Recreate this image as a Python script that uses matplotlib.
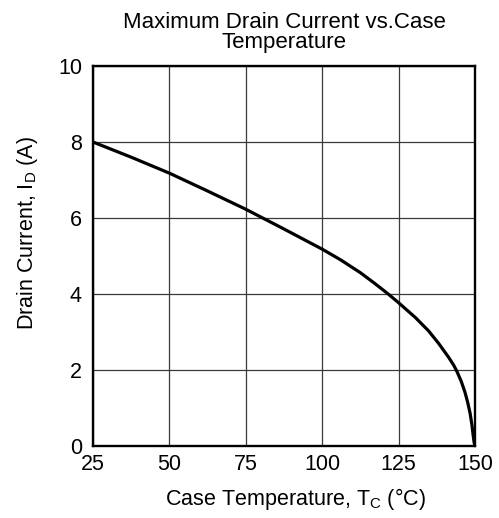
import matplotlib
matplotlib.use("Agg")
import matplotlib.pyplot as plt

plt.rcParams['font.family'] = ['Liberation Sans', 'DejaVu Sans']
plt.rcParams['mathtext.default'] = 'regular'

# curve
temp_c = [25, 37.5, 50, 62.5, 75, 87.5, 100, 106, 112.5, 117, 121.6, 125,
          130.5, 134.8, 138.1, 141.4, 143, 144.1, 145.5, 146.7, 147.6, 148.4,
          149.0, 149.4, 149.7, 150]
drain_a = [8.0, 7.60, 7.18, 6.71, 6.23, 5.71, 5.18, 4.90, 4.56, 4.29, 4.0, 3.77,
           3.38, 3.03, 2.70, 2.33, 2.13, 1.96, 1.70, 1.42, 1.15, 0.86,
           0.55, 0.28, 0.10, 0.0]

x_ticks = [25, 50, 75, 100, 125, 150]
y_ticks = [0, 2, 4, 6, 8, 10]

fig = plt.figure(figsize=(4.99, 5.18), dpi=100)
ax = fig.add_axes([93 / 499, 1 - 446 / 518, 382 / 499, 380 / 518])

ax.plot(temp_c, drain_a, color='black', linewidth=2.3, solid_joinstyle='round')

ax.set_xlim(25, 150)
ax.set_ylim(0, 10)
ax.set_xticks(x_ticks)
ax.set_yticks(y_ticks)
ax.tick_params(length=0, labelsize=15.5)
ax.tick_params(axis='x', pad=6)
ax.tick_params(axis='y', pad=8)
ax.grid(True, color='#3a3a3a', linewidth=0.9)
ax.set_axisbelow(True)
for s in ax.spines.values():
    s.set_linewidth(1.7)

ax.set_xlabel('Case Temperature, T$_C$ (°C)', fontsize=15.5, labelpad=9)
ax.set_ylabel('Drain Current, I$_D$ (A)', fontsize=15.5)
ax.xaxis.set_label_coords(0.529, -0.105)
ax.yaxis.set_label_coords(-0.138, 0.56)
ax.set_title('Maximum Drain Current vs.Case\nTemperature', fontsize=16,
             linespacing=0.95, pad=13)

fig.savefig('out.png', dpi=100)
